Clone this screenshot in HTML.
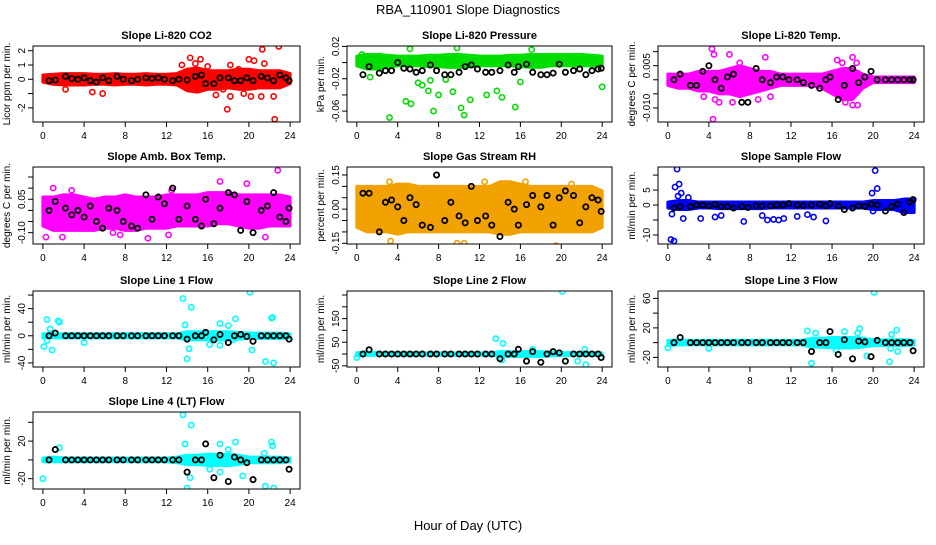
<!DOCTYPE html>
<html><head><meta charset="utf-8"><style>
body{margin:0;background:#fff;width:936px;height:540px;overflow:hidden}
svg text{font-family:"Liberation Sans",sans-serif}
</style></head><body>
<svg id="chart" width="936" height="540" xmlns="http://www.w3.org/2000/svg">
<text x="468" y="14" font-size="13" text-anchor="middle">RBA_110901  Slope Diagnostics</text>
<text x="468" y="530" font-size="13" text-anchor="middle">Hour of Day (UTC)</text>
</svg>
<script>
const blackX=[0.6,1.2,2.2,2.8,3.4,4,4.6,5.2,5.8,6.4,7.2,7.8,8.6,9.2,10,10.6,11.2,11.8,12.6,13.2,14,14.8,15.4,15.8,16.6,17.2,18,18.6,19.2,19.8,20.4,21.2,21.8,22.4,23,23.6,23.9];
const bandX=[0,1,2,3,4,5,6,7,8,9,10,11,12,13,14,15,16,17,18,19,20,21,22,23,24];
const xTicks=[0,4,8,12,16,20,24];

const co2Hi=[0.3,0.35,0.4,0.4,0.4,0.35,0.35,0.4,0.35,0.35,0.4,0.35,0.35,0.4,0.7,0.8,0.6,0.6,0.6,0.7,0.7,0.6,0.6,0.6,0.4];
const co2Lo=[-0.2,-0.35,-0.4,-0.4,-0.4,-0.35,-0.35,-0.4,-0.35,-0.35,-0.4,-0.35,-0.35,-0.4,-0.8,-0.9,-0.7,-0.7,-0.6,-0.7,-0.7,-0.6,-0.6,-0.6,-0.3];
const co2Out=[[2.2,-0.7],[4.8,-0.9],[5.8,-1.0],[13.5,1.0],[14.3,1.5],[15.3,1.4],[14.8,1.1],[16.8,-1.1],[17.5,-0.7],[17.9,-2.1],[18.2,1.0],[18.2,-1.2],[19.5,-1.0],[20,1.4],[20.5,1.3],[20.2,-1.2],[21.3,2.1],[21.5,1.1],[21.2,-1.2],[22.4,-1.2],[22.5,-2.8],[22.9,2.3],[19,0.7],[16,0.9]];
const co2Black=[-0.1,-0.05,0.2,0.05,0,0.1,-0.1,-0.2,0.1,-0.1,0.2,0,-0.1,0,0.1,0.05,0.1,0,-0.1,0,-0.05,0.2,0.3,-0.3,-0.3,0.1,0.1,-0.1,-0.1,0.1,-0.1,0.2,0.1,-0.1,0.3,0.1,-0.1];

const presHi=[0.008,0.01,0.01,0.009,0.008,0.008,0.008,0.009,0.009,0.01,0.01,0.009,0.008,0.008,0.008,0.009,0.009,0.01,0.01,0.01,0.01,0.01,0.01,0.009,0.008];
const presLo=[-0.004,-0.008,-0.008,-0.006,-0.004,-0.004,-0.004,-0.005,-0.005,-0.006,-0.006,-0.005,-0.004,-0.004,-0.004,-0.004,-0.005,-0.006,-0.006,-0.004,-0.004,-0.004,-0.004,-0.004,-0.004];
const presOut=[[0.5,0.01],[1.3,-0.018],[2.3,0.008],[3.2,-0.068],[4.8,-0.048],[5.2,0.017],[5.3,-0.051],[6,-0.025],[6.4,-0.028],[7,-0.035],[7.2,-0.022],[7.5,-0.06],[8,-0.04],[8.7,-0.021],[9.4,-0.036],[9.8,0.018],[10.2,-0.056],[10.5,-0.065],[11.1,-0.046],[12.7,-0.040],[13.7,-0.035],[14.2,-0.043],[15.5,-0.055],[16,-0.024],[17.1,0.016],[24,-0.03]];
const presBlack=[-0.015,-0.005,-0.013,-0.01,-0.01,0.0,-0.007,-0.008,-0.012,-0.01,-0.003,-0.01,-0.015,-0.015,-0.012,-0.005,-0.003,-0.008,-0.012,-0.012,-0.01,-0.003,-0.012,-0.005,-0.002,-0.012,-0.015,-0.015,-0.013,-0.002,-0.012,-0.01,-0.008,-0.015,-0.01,-0.008,-0.007];

const tempHi=[0.002,0.002,0.002,0.003,0.003,0.003,0.004,0.005,0.004,0.003,0.003,0.002,0.002,0.002,0.002,0.002,0.003,0.004,0.004,0.002,0.001,0.001,0.001,0.001,0.001];
const tempLo=[-0.002,-0.003,-0.003,-0.004,-0.004,-0.005,-0.005,-0.006,-0.005,-0.004,-0.003,-0.002,-0.002,-0.002,-0.002,-0.003,-0.005,-0.007,-0.007,-0.003,-0.001,-0.001,-0.001,-0.001,-0.001];
const tempOut=[[4.3,0.011],[4.5,0.009],[4.4,-0.014],[4.6,-0.007],[5,-0.008],[6,0.009],[6.3,-0.008],[7,0.006],[9.5,0.008],[10,-0.006],[8.8,-0.007],[16.5,0.007],[17,0.006],[18,0.008],[18.4,0.006],[17.3,-0.008],[18,-0.009],[18.5,-0.009],[3.5,-0.006]];
const tempBlack=[0,0.002,-0.002,-0.002,0.003,0.005,0.0,-0.003,0.001,0.002,-0.008,-0.008,0.004,0.0,-0.001,0.001,0.001,0.0,0.0,-0.001,-0.002,-0.003,0.0,0.001,-0.007,-0.002,0.004,-0.001,0.001,0.003,0,0,0,0,0,0,0];

const ambHi=[0.06,0.06,0.07,0.07,0.06,0.05,0.06,0.06,0.07,0.06,0.06,0.06,0.07,0.07,0.07,0.07,0.08,0.08,0.08,0.07,0.07,0.07,0.07,0.07,0.06];
const ambLo=[-0.07,-0.09,-0.09,-0.09,-0.09,-0.09,-0.08,-0.08,-0.09,-0.09,-0.08,-0.08,-0.08,-0.07,-0.07,-0.07,-0.07,-0.06,-0.06,-0.07,-0.08,-0.08,-0.07,-0.07,-0.07];
const ambOut=[[0.3,-0.12],[1,0.1],[2.8,0.09],[1.9,-0.12],[7.5,-0.11],[10.2,-0.125],[12.2,-0.11],[17.2,0.13],[19.8,0.12],[21.6,-0.12],[22.8,0.18],[6.8,-0.10],[12.5,0.09]];
const ambBlack=[0,0.04,0.01,-0.02,0.0,-0.03,0.02,-0.05,-0.08,0.01,0.0,-0.05,-0.07,-0.08,0.07,-0.04,0.06,0.03,0.1,-0.04,0.02,-0.04,-0.07,0.05,-0.06,0.01,0.08,0.07,-0.09,0.04,-0.1,0.0,0.02,0.08,-0.03,-0.05,0.01];

const rhHi=[0.1,0.1,0.1,0.1,0.11,0.11,0.1,0.1,0.1,0.1,0.1,0.1,0.1,0.1,0.12,0.12,0.11,0.1,0.1,0.1,0.1,0.1,0.1,0.1,0.08];
const rhLo=[-0.08,-0.1,-0.1,-0.1,-0.11,-0.1,-0.1,-0.1,-0.1,-0.1,-0.1,-0.1,-0.1,-0.1,-0.11,-0.11,-0.1,-0.1,-0.1,-0.1,-0.1,-0.1,-0.1,-0.1,-0.08];
const rhOut=[[3.2,0.12],[3.3,-0.14],[4.2,-0.2],[5.5,-0.17],[9.8,-0.15],[10.5,-0.15],[12.5,0.12],[14.3,-0.17],[16.5,0.12],[19.5,-0.16],[20.1,0.22],[21,0.11],[21.5,-0.2],[22.5,-0.18],[11.5,-0.17]];
const rhBlack=[0.07,0.07,-0.1,0.03,0.04,0.01,-0.05,0.05,0.02,-0.07,-0.08,0.15,-0.05,0.03,-0.03,-0.06,0.1,-0.05,-0.03,-0.07,-0.12,0.03,0.0,-0.07,0.02,0.06,0.01,0.06,-0.07,0.05,0.08,0.06,-0.06,0.01,0.05,0.04,-0.01];

const sfHi=[1,1.5,1.5,1,1,1,1,1,1,1,1,1,1,1,1,1,1,1,1,1,1.5,1.5,1.5,2,2];
const sfLo=[-1,-1.5,-1.5,-1,-1,-1.2,-1.2,-1.2,-1.2,-1.2,-1,-1,-1,-1,-1,-1,-1,-1,-1,-1,-1.5,-1.5,-1.5,-2.5,-2.5];
const sfOut=[[0.3,-11.5],[0.6,-12],[0.4,-3],[0.7,6],[0.9,12],[1.1,7],[1,3],[1.3,4],[1.5,-4.5],[2,2.5],[3.2,-4.5],[4.6,-4],[5.2,-3.5],[7.4,-5.5],[9.2,-3.5],[9.7,-5],[10.3,-4.8],[10.8,-5],[11.3,-4.5],[12.6,-3.8],[13.6,-3.2],[14.2,-4],[15.4,-5.3],[19.9,4],[20.2,11.5],[20.4,5.5],[20,-2]];
const sfBlack=[-1,-0.5,-0.5,0,0,-0.3,0.2,-0.5,-0.5,-1,-0.5,-0.8,-0.3,-0.3,-0.3,0,0,0.5,0,-0.2,0,0.3,-0.3,0.5,-0.3,-1.5,-1,-0.3,-0.5,0.3,0,-2,-0.5,0.3,-2.5,1,1.8];

const l1Hi=[3,3,3,3,3,3,3,3,3,3,3,3,3,3,6,6,6,6,6,5,4,4,4,4,3];
const l1Lo=[-3,-3,-3,-3,-3,-3,-3,-3,-3,-3,-3,-3,-3,-3,-6,-6,-6,-6,-6,-5,-4,-4,-4,-4,-3];
const l1Out=[[0.1,-16],[0.4,24],[0.4,-7],[0.7,10],[0.9,-21],[1.5,22],[1.6,20],[4,-10],[13.6,55],[13.8,16],[14,-34],[14.2,-19],[14.4,42],[16.2,-13],[17.2,18],[17.2,-14],[18,15],[18.5,-6],[18.7,25],[20.1,64],[20.3,-21],[21.6,-38],[22.2,26],[22.4,-40],[22.3,27]];
const l1Black=[0,4,0,0,0,0,0,0,0,0,0,0,0,0,0,0,0,0,0,0,-5,0,0,5,-6,2,-10,0,2,-1,-8,0,0,0,0,0,-5];

const l2Hi=[6,8,6,5,5,5,5,5,5,5,5,5,5,5,10,10,10,10,10,8,6,6,6,6,5];
const l2Lo=[-8,-6,-5,-5,-5,-5,-5,-5,-5,-5,-5,-5,-5,-5,-10,-10,-10,-10,-10,-8,-6,-6,-6,-6,-5];
const l2Out=[[0,-15],[13.6,65],[14.3,45],[20.1,265],[21.6,-30],[22.4,-45],[22.3,20],[14.2,-25],[17.2,20]];
const l2Black=[0,18,0,0,0,0,0,0,0,0,0,0,0,0,0,0,0,0,0,0,-20,0,0,20,-30,10,-35,0,10,5,-30,0,0,0,0,0,-15];

const l3Hi=[3,4,3,3,3,3,3,3,3,3,3,3,3,3,6,6,7,7,7,6,4,4,4,4,3];
const l3Lo=[-4,-3,-3,-3,-3,-3,-3,-3,-3,-3,-3,-3,-3,-3,-6,-6,-7,-7,-7,-6,-4,-4,-4,-4,-3];
const l3Out=[[0,-7],[4,-8],[13.6,16],[14,-28],[14.4,13],[16.4,-10],[17.2,15],[18.5,13],[18.7,19],[19.4,-18],[20.1,68],[21.6,-26],[21.8,11],[22.3,17],[22.4,-12],[21.7,-8]];
const l3Black=[0,7,0,0,0,0,0,0,0,0,0,0,0,0,0,0,0,0,0,0,-12,0,0,15,-16,4,-22,2,1,-19,3,0,0,0,0,0,-11];

const l4Hi=[2,3,2,2,2,2,2,2,2,2,2,2,2,3,5,5,6,6,6,5,3,3,3,3,2];
const l4Lo=[-2,-2,-2,-2,-2,-2,-2,-2,-2,-2,-2,-2,-2,-3,-5,-5,-6,-6,-6,-5,-3,-3,-3,-3,-2];
const l4Out=[[0,-20],[1.6,13],[13.6,48],[13.8,17],[14,-30],[14.3,-19],[14.4,37],[16.2,-10],[17.2,17],[17.2,-13],[18,11],[18.7,19],[19.4,-17],[21.6,-28],[22.2,19],[22.3,15],[22.4,-30],[21.5,7]];
const l4Black=[0,11,0,0,0,0,0,0,0,0,0,0,0,0,0,0,0,0,0,0,-13,0,0,17,-19,5,-23,3,0,-3,-21,0,0,0,0,0,-10];

const cols=[[33,300],[347,612],[658,924]];
const rows=[[46,122],[167,244],[291,367],[412,489]];
const panels=[
 {id:'co2',t:'Slope Li-820 CO2',yl:'Licor ppm per min.',c:0,r:0,col:'#ff0000',y0:-2.99,y1:2.33,tk:[-2,-1,0,1,2],tl:['-2','','0','1','2'],hi:co2Hi,lo:co2Lo,out:co2Out,bk:co2Black},
 {id:'pressure',t:'Slope Li-820 Pressure',yl:'kPa per min.',c:1,r:0,col:'#00dd00',y0:-0.0735,y1:0.0205,tk:[0.02,0,-0.02,-0.04,-0.06],tl:['0.02','','-0.02','','-0.06'],hi:presHi,lo:presLo,out:presOut,bk:presBlack},
 {id:'temp',t:'Slope Li-820 Temp.',yl:'degrees C per min.',c:2,r:0,col:'#ff00ff',y0:-0.015,y1:0.012,tk:[0.01,0.005,0,-0.005,-0.01],tl:['','0.005','','','-0.010'],hi:tempHi,lo:tempLo,out:tempOut,bk:tempBlack},
 {id:'amb-box-temp',t:'Slope Amb. Box Temp.',yl:'degrees C per min.',c:0,r:1,col:'#ff00ff',y0:-0.151,y1:0.195,tk:[0.15,0.1,0.05,0,-0.05,-0.1],tl:['','','0.05','','','-0.10'],hi:ambHi,lo:ambLo,out:ambOut,bk:ambBlack},
 {id:'gas-stream-rh',t:'Slope Gas Stream RH',yl:'percent per min.',c:1,r:1,col:'#f2a200',y0:-0.153,y1:0.185,tk:[0.15,0.1,0.05,0,-0.05,-0.1,-0.15],tl:['0.15','','','0.00','','','-0.15'],hi:rhHi,lo:rhLo,out:rhOut,bk:rhBlack},
 {id:'sample-flow',t:'Slope Sample Flow',yl:'ml/min per min.',c:2,r:1,col:'#0000ff',y0:-13,y1:12.7,tk:[10,5,0,-5,-10],tl:['','5','0','','-10'],hi:sfHi,lo:sfLo,out:sfOut,bk:sfBlack},
 {id:'line1-flow',t:'Slope Line 1 Flow',yl:'ml/min per min.',c:0,r:2,col:'#00ffff',y0:-46,y1:66,tk:[60,40,20,0,-20,-40],tl:['','40','','0','','-40'],hi:l1Hi,lo:l1Lo,out:l1Out,bk:l1Black},
 {id:'line2-flow',t:'Slope Line 2 Flow',yl:'ml/min per min.',c:1,r:2,col:'#00ffff',y0:-55,y1:267,tk:[250,200,150,100,50,0,-50],tl:['','','150','','50','','-50'],hi:l2Hi,lo:l2Lo,out:l2Out,bk:l2Black},
 {id:'line3-flow',t:'Slope Line 3 Flow',yl:'ml/min per min.',c:2,r:2,col:'#00ffff',y0:-33,y1:70,tk:[60,40,20,0,-20],tl:['60','','20','','-20'],hi:l3Hi,lo:l3Lo,out:l3Out,bk:l3Black},
 {id:'line4-flow',t:'Slope Line 4 (LT) Flow',yl:'ml/min per min.',c:0,r:3,col:'#00ffff',y0:-31,y1:51,tk:[40,20,0,-20],tl:['','20','','-20'],hi:l4Hi,lo:l4Lo,out:l4Out,bk:l4Black}
];
const NS='http://www.w3.org/2000/svg';
const svg=document.getElementById('chart');
function mk(tag,attrs,parent){const e=document.createElementNS(NS,tag);for(const k in attrs)e.setAttribute(k,attrs[k]);parent.appendChild(e);return e;}
panels.forEach(p=>{
 const [L,R]=cols[p.c],[T,B]=rows[p.r];
 const sx=v=>L+(v+0.96)/25.92*(R-L);
 const sy=v=>B-(v-p.y0)/(p.y1-p.y0)*(B-T);
 const g=mk('g',{},svg);
 
 
 const cp=mk('clipPath',{id:'cp-'+p.id},g);
 mk('rect',{x:L,y:T,width:R-L,height:B-T},cp);
 const t=mk('text',{x:(L+R)/2,y:T-7,'font-size':11,'font-weight':'bold','text-anchor':'middle'},g);
 t.textContent=p.t;
 
 
 const yt=mk('text',{x:0,y:0,'font-size':10,'text-anchor':'middle',transform:`translate(${L-23},${(T+B)/2}) rotate(-90)`},g);
 yt.textContent=p.yl;
 
 
 const plot=mk('g',{'clip-path':`url(#cp-${p.id})`},g);
 
 
 let pts=bandX.map((x,i)=>sx(x)+','+sy(p.hi[i])).join(' ')+' '+bandX.map((x,i)=>sx(x)+','+sy(p.lo[i])).reverse().join(' ');
 const band=mk('polygon',{points:pts,fill:p.col,stroke:p.col,'stroke-width':3,'stroke-linejoin':'round'},plot);
 
 
 p.out.forEach(o=>{
  const c=mk('circle',{cx:sx(o[0]),cy:sy(o[1]),r:2.6,fill:'none',stroke:p.col,'stroke-width':1.6},plot);
  
  
 });
 blackX.forEach((x,i)=>{
  const c=mk('circle',{cx:sx(x),cy:sy(p.bk[i]),r:2.6,fill:'none',stroke:'#000','stroke-width':1.8},plot);
  
  
 });
 const bx=mk('rect',{x:L,y:T,width:R-L,height:B-T,fill:'none',stroke:'#000','stroke-width':1},g);
 
 
 xTicks.forEach(v=>{
  mk('line',{x1:sx(v),x2:sx(v),y1:B,y2:B+5,stroke:'#000'},g);
  const tx=mk('text',{x:sx(v),y:B+17,'font-size':10,'text-anchor':'middle'},g);
  tx.textContent=v;
  
  
 });
 p.tk.forEach((v,i)=>{
  mk('line',{x1:L-5,x2:L,y1:sy(v),y2:sy(v),stroke:'#000'},g);
  if(p.tl[i]){
   const tx=mk('text',{x:0,y:0,'font-size':10,'text-anchor':'middle',transform:`translate(${L-8},${sy(v)}) rotate(-90)`},g);
   tx.textContent=p.tl[i];
   
   
  }
 });
});
</script>
</body></html>
